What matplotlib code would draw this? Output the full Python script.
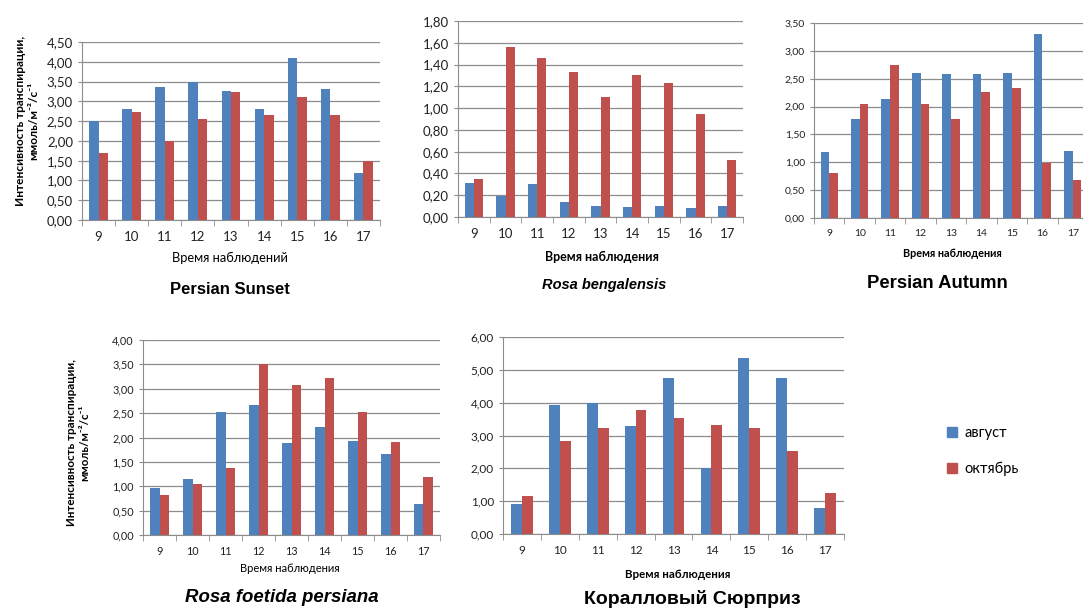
import numpy as np
import matplotlib.pyplot as plt
from matplotlib.patches import Patch
from matplotlib.ticker import FuncFormatter, MultipleLocator

W, H = 1083, 608

hours = ['9', '10', '11', '12', '13', '14', '15', '16', '17']
series_names = ['август', 'октябрь']

sunset_aug = [2.50, 2.80, 3.35, 3.50, 3.25, 2.80, 4.10, 3.30, 1.20]
sunset_oct = [1.70, 2.72, 2.00, 2.55, 3.23, 2.65, 3.12, 2.65, 1.50]

bengal_aug = [0.31, 0.19, 0.30, 0.14, 0.10, 0.09, 0.10, 0.08, 0.10]
bengal_oct = [0.35, 1.56, 1.46, 1.33, 1.10, 1.30, 1.23, 0.95, 0.52]

autumn_aug = [1.18, 1.77, 2.14, 2.60, 2.58, 2.58, 2.60, 3.30, 1.20]
autumn_oct = [0.80, 2.05, 2.75, 2.05, 1.78, 2.26, 2.34, 0.98, 0.68]

foetida_aug = [0.96, 1.14, 2.52, 2.66, 1.88, 2.22, 1.92, 1.66, 0.63]
foetida_oct = [0.82, 1.04, 1.37, 3.50, 3.07, 3.22, 2.52, 1.91, 1.20]

coral_aug = [0.90, 3.93, 4.00, 3.30, 4.74, 2.00, 5.35, 4.75, 0.80]
coral_oct = [1.15, 2.82, 3.24, 3.77, 3.52, 3.32, 3.24, 2.54, 1.25]

BLUE = '#4F81BD'
RED = '#C0504D'
GRID = '#8C8C8C'

fig = plt.figure(figsize=(W / 100, H / 100), dpi=100)


def px_axes(left, right, top, bottom):
    return fig.add_axes([left / W, 1 - bottom / H, (right - left) / W, (bottom - top) / H])


def comma(v, pos):
    return f'{v:.2f}'.replace('.', ',')


def panel(rect, aug, octo, ymax, step, tick_fs):
    ax = px_axes(*rect)
    x = np.arange(len(hours))
    bw = 1 / 3.5
    ax.bar(x - bw / 2, aug, bw, color=BLUE, zorder=3)
    ax.bar(x + bw / 2, octo, bw, color=RED, zorder=3)
    ax.set_xlim(-0.5, len(hours) - 0.5)
    ax.set_ylim(0, ymax)
    ax.yaxis.set_major_locator(MultipleLocator(step))
    ax.yaxis.set_major_formatter(FuncFormatter(comma))
    ax.set_xticks(x)
    ax.set_xticklabels(hours)
    ax.set_xticks(np.arange(-0.5, len(hours)), minor=True)
    ax.tick_params(axis='x', which='major', length=0, pad=8, labelsize=tick_fs, colors='#222222')
    ax.tick_params(axis='x', which='minor', length=4, color=GRID)
    ax.tick_params(axis='y', length=3, color=GRID, labelsize=tick_fs, colors='#222222')
    ax.grid(axis='y', color=GRID, linewidth=0.9, zorder=0)
    for s in ['top', 'right']:
        ax.spines[s].set_visible(False)
    for s in ['left', 'bottom']:
        ax.spines[s].set_color(GRID)
    for lbl in ax.get_xticklabels() + ax.get_yticklabels():
        lbl.set_fontfamily('Lato')
    return ax


def ftext(x, y, s, **kw):
    fig.text(x / W, 1 - y / H, s, ha='center', va='center', **kw)


ylabel = 'Интенсивность транспирации,\nммоль/м⁻²/с⁻¹'

# Persian Sunset
panel((82, 380, 42, 220), sunset_aug, sunset_oct, 4.5, 0.5, 9.5)
ftext(230, 258, 'Время наблюдений', fontsize=9.3, family='Lato')
ftext(230, 290, 'Persian Sunset', fontsize=12, weight='bold', family='Liberation Sans')
ftext(27, 121, ylabel, fontsize=8.6, weight='bold', rotation=90, family='Lato', linespacing=1.2)

# Rosa bengalensis
panel((458, 743, 21, 217), bengal_aug, bengal_oct, 1.8, 0.2, 9.5)
ftext(602, 257, 'Время наблюдения', fontsize=9, weight='bold', family='Lato')
ftext(604, 285, 'Rosa bengalensis', fontsize=10.5, weight='bold', style='italic', family='Liberation Sans')

# Persian Autumn
panel((814, 1088, 23, 218), autumn_aug, autumn_oct, 3.5, 0.5, 7.5)
ftext(952, 253, 'Время наблюдения', fontsize=7.8, weight='bold', family='Lato')
ftext(937, 283, 'Persian Autumn', fontsize=13.3, weight='bold', family='Liberation Sans')

# Rosa foetida persiana
panel((143, 440, 340, 535), foetida_aug, foetida_oct, 4.0, 0.5, 7.8)
ftext(290, 569, 'Время наблюдения', fontsize=8, family='Lato')
ftext(282, 597, 'Rosa foetida persiana', fontsize=13.4, weight='bold', style='italic', family='Liberation Sans')
ftext(78, 443, ylabel, fontsize=8.4, weight='bold', rotation=90, family='Lato', linespacing=1.2)

# Коралловый Сюрприз
panel((503, 844, 337, 534), coral_aug, coral_oct, 6.0, 1.0, 8.5)
ftext(678, 574, 'Время наблюдения', fontsize=8.3, weight='bold', family='Lato')
ftext(692, 599, 'Коралловый Сюрприз', fontsize=14, weight='bold', family='Liberation Sans')

handles = [Patch(color=BLUE, label=series_names[0]), Patch(color=RED, label=series_names[1])]
fig.legend(handles=handles, loc='center left', bbox_to_anchor=(934 / W, 1 - 451 / H),
           frameon=False, labelspacing=1.5, handlelength=0.7, handleheight=0.7,
           handletextpad=0.5, prop={'family': 'Lato', 'size': 10.5})

fig.savefig('out.png', dpi=100)
